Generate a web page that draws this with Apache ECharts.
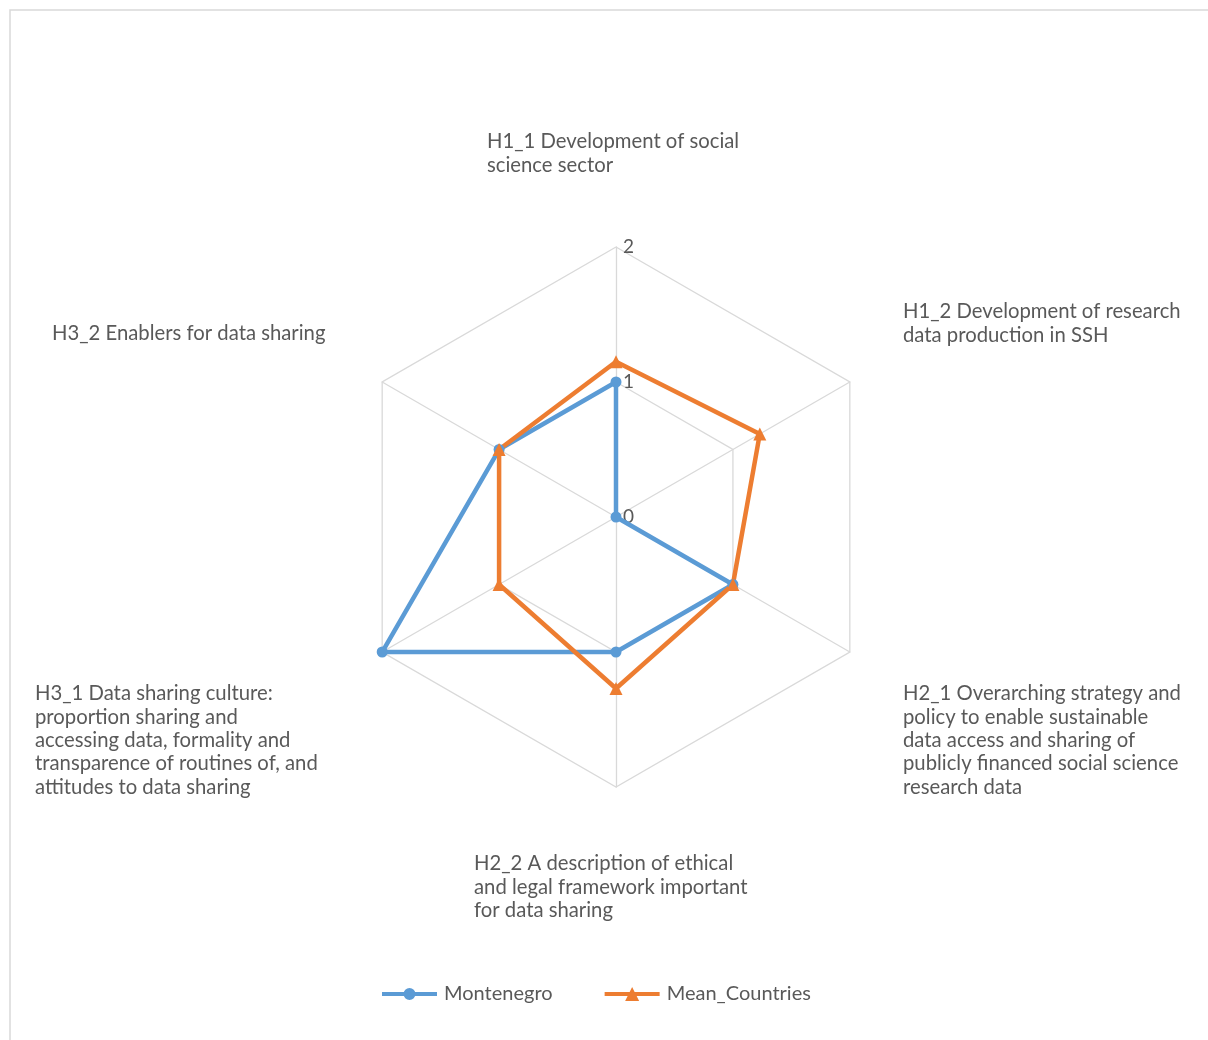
<!DOCTYPE html>
<html><head><meta charset="utf-8">
<script src="https://cdn.jsdelivr.net/npm/echarts@6/dist/echarts.min.js"></script>
<style>html,body{margin:0;padding:0;background:#fff;}#c{width:1208px;height:1040px;}</style>
</head><body><div id="c"></div>
<script>
const indicators = [
  'H1_1 Development of social\nscience sector',
  'H1_2 Development of research\ndata production in SSH',
  'H2_1 Overarching strategy and\npolicy to enable sustainable\ndata access and sharing of\npublicly financed social science\nresearch data',
  'H2_2 A description of ethical\nand legal framework important\nfor data sharing',
  'H3_1 Data sharing culture:\nproportion sharing and\naccessing data, formality and\ntransparence of routines of, and\nattitudes to data sharing',
  'H3_2 Enablers for data sharing'
];
const montenegro = [1.0, 0, 1.0, 1.0, 2.0, 1.0];
const meanCountries = [1.15, 1.23, 1.0, 1.27, 1.0, 1.0];
const axisMax = 2;
const tickCount = 2;

// clockwise drawing order (ECharts radar runs counter-clockwise)
const order = [0, 5, 4, 3, 2, 1];
const reorder = arr => order.map(i => arr[i]);

// label anchor (left x, first-line centre y) for each indicator name
const namePos = [[487,142],[903,312],[903,694],[474,864],[35,694],[52,334]];

const FONT = 'Lato, "Open Sans", sans-serif';
const chart = echarts.init(document.getElementById('c'));
const graphics = [{
  type:'rect', shape:{x:10,y:10,width:1400,height:1200},
  style:{fill:'none',stroke:'#d9d9d9',lineWidth:1.5}, silent:true, z:-1
}];
indicators.forEach((t,i)=>{
  graphics.push({type:'text', x:namePos[i][0], y:namePos[i][1]-11.7,
    style:{text:t, fill:'#595959', font:'20.3px '+FONT, lineHeight:23.3, textVerticalAlign:'top', textAlign:'left'}});
});

const circleIcon = 'path://M0 5H55V9H0Z M21.5 7A6 6 0 1 1 33.5 7A6 6 0 1 1 21.5 7Z';
const triIcon = 'path://M0 5H55V9H0Z M27.5 0L34.5 14L20.5 14Z';

chart.setOption({
  animation:false,
  backgroundColor:'#fff',
  graphic: graphics,
  legend:{
    bottom: 36, left: 382, padding:0, itemWidth:55, itemHeight:14, itemGap:52,
    textStyle:{color:'#595959', fontSize:20, fontFamily:FONT, padding:[0,0,0,2]},
    data:[{name:'Montenegro', icon:circleIcon},{name:'Mean_Countries', icon:triIcon}]
  },
  radar:{
    center:[616,517], radius:270, startAngle:90, shape:'polygon',
    splitNumber: tickCount,
    indicator: reorder(indicators).map((n,i)=>({name:n, min:0, max:axisMax,
      axisLabel: i===0 ? {show:true} : undefined})),
    axisName:{show:false},
    axisLine:{lineStyle:{color:'#d9d9d9',width:1.3}},
    splitLine:{lineStyle:{color:'#d9d9d9',width:1.3}},
    splitArea:{show:false},
    axisTick:{show:false},
    axisLabel:{show:false, color:'#595959', fontSize:19, fontFamily:FONT, margin:-18, formatter:v=>String(v)}
  },
  series:[{
    type:'radar',
    data:[
      {name:'Montenegro', value:reorder(montenegro), symbol:'circle', symbolSize:11,
        lineStyle:{color:'#5B9BD5',width:4.5}, itemStyle:{color:'#5B9BD5'}},
      {name:'Mean_Countries', value:reorder(meanCountries), symbol:'triangle', symbolSize:13,
        lineStyle:{color:'#ED7D31',width:4.5}, itemStyle:{color:'#ED7D31'}}
    ]
  }]
});
</script></body></html>
